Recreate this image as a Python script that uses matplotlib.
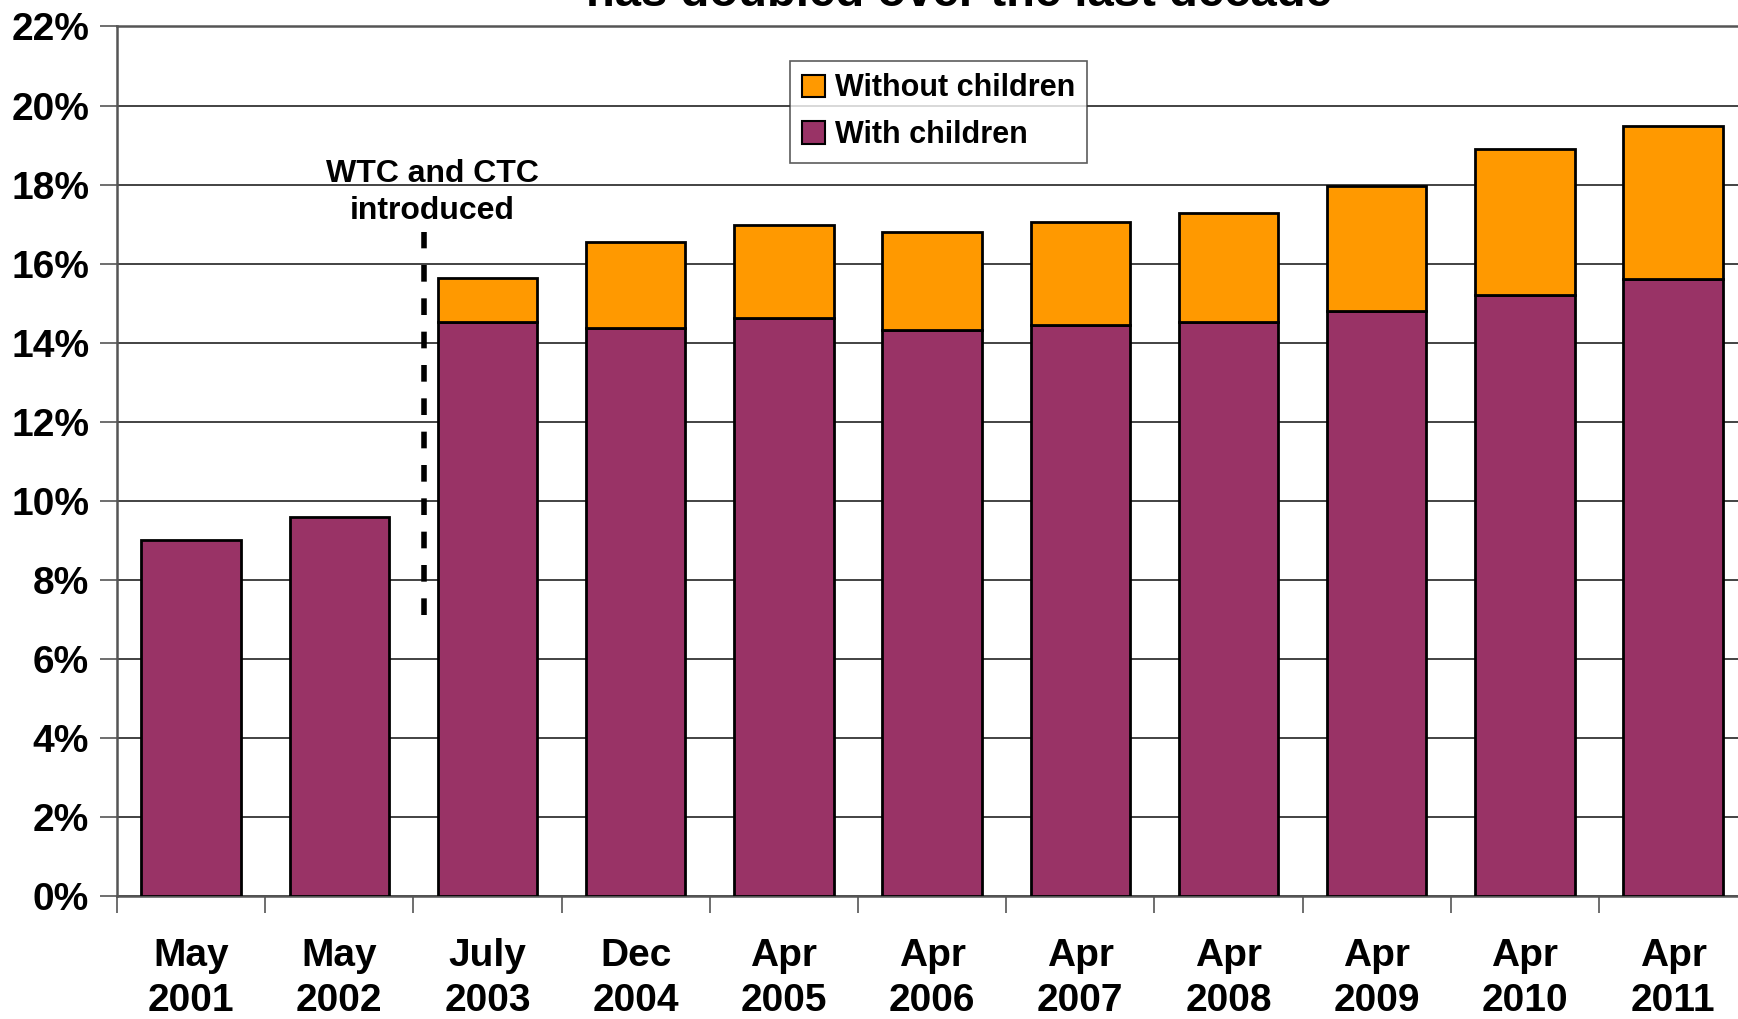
import matplotlib.pyplot as plt
from matplotlib.patches import Patch
import numpy as np

# data
months = ["May", "May", "July", "Dec", "Apr", "Apr", "Apr", "Apr", "Apr", "Apr", "Apr"]
years = ["2001", "2002", "2003", "2004", "2005", "2006", "2007", "2008", "2009", "2010", "2011"]
with_children = [9.0, 9.6, 14.53, 14.37, 14.62, 14.31, 14.45, 14.53, 14.81, 15.20, 15.61]
without_children = [0.0, 0.0, 1.10, 2.18, 2.36, 2.50, 2.61, 2.75, 3.16, 3.70, 3.88]

purple = "#993366"
orange = "#FF9900"

plt.rcParams['font.family'] = ['Liberation Sans', 'DejaVu Sans']
plt.rcParams['font.weight'] = 'bold'

fig = plt.figure(figsize=(17.38, 10.19), dpi=100)
ax = fig.add_axes([0.0673, 0.1207, 0.938, 0.8533])

x = np.arange(len(years))
b1 = ax.bar(x, with_children, width=0.67, color=purple, edgecolor="black", linewidth=2, zorder=3)
b2 = ax.bar(x, without_children, width=0.67, bottom=with_children, color=orange, edgecolor="black",
            linewidth=2, zorder=3)
# hide the empty orange caps for the first two years
for i, v in enumerate(without_children):
    if v == 0:
        b2[i].set_visible(False)

ax.set_xlim(-0.5, len(years) - 0.5)
ax.set_ylim(0, 22)
ax.set_yticks(np.arange(0, 23, 2))
ax.set_yticklabels([f"{v}%" for v in range(0, 23, 2)], fontsize=28, fontweight="bold")
ax.yaxis.grid(True, color="#222222", linewidth=1.2, zorder=0)

ax.set_xticks(x)
ax.set_xticklabels([f"{m}\n{y}" for m, y in zip(months, years)], fontsize=28, fontweight="bold",
                   linespacing=1.32)
ax.set_xticks(np.arange(-0.5, len(years), 1), minor=True)
ax.tick_params(axis="x", which="major", length=0, pad=30)
ax.tick_params(axis="x", which="minor", length=12, width=1.2, color="#555555")
ax.tick_params(axis="y", length=12, width=1.2, color="#555555", pad=8)

for s in ["left", "bottom", "top"]:
    ax.spines[s].set_color("#555555")
    ax.spines[s].set_linewidth(1.8)
ax.spines["right"].set_visible(False)

# tax credit marker
ax.plot([1.57, 1.57], [7.1, 16.8], color="black", linestyle=(0, (3, 3)), linewidth=4, zorder=4)
ax.text(1.63, 16.95, "WTC and CTC\nintroduced", ha="center", va="bottom", fontsize=23,
        fontweight="bold", linespacing=1.3)

handles = [Patch(facecolor=orange, edgecolor="black", linewidth=1.5),
           Patch(facecolor=purple, edgecolor="black", linewidth=1.5)]
leg = ax.legend(handles, ["Without children", "With children"], loc="upper left",
                bbox_to_anchor=(0.413, 0.96), fontsize=22, frameon=True, fancybox=False,
                handlelength=0.75, handleheight=0.75, handletextpad=0.3, borderpad=0.4,
                labelspacing=0.55, borderaxespad=0)
leg.get_frame().set_edgecolor("#333333")
leg.get_frame().set_linewidth(1.2)
for t in leg.get_texts():
    t.set_fontweight("bold")

fig.text(0.552, 0.984, "has doubled over the last decade", ha="center", va="bottom",
         fontsize=34, fontweight="bold")

fig.savefig("out.png", dpi=100)
